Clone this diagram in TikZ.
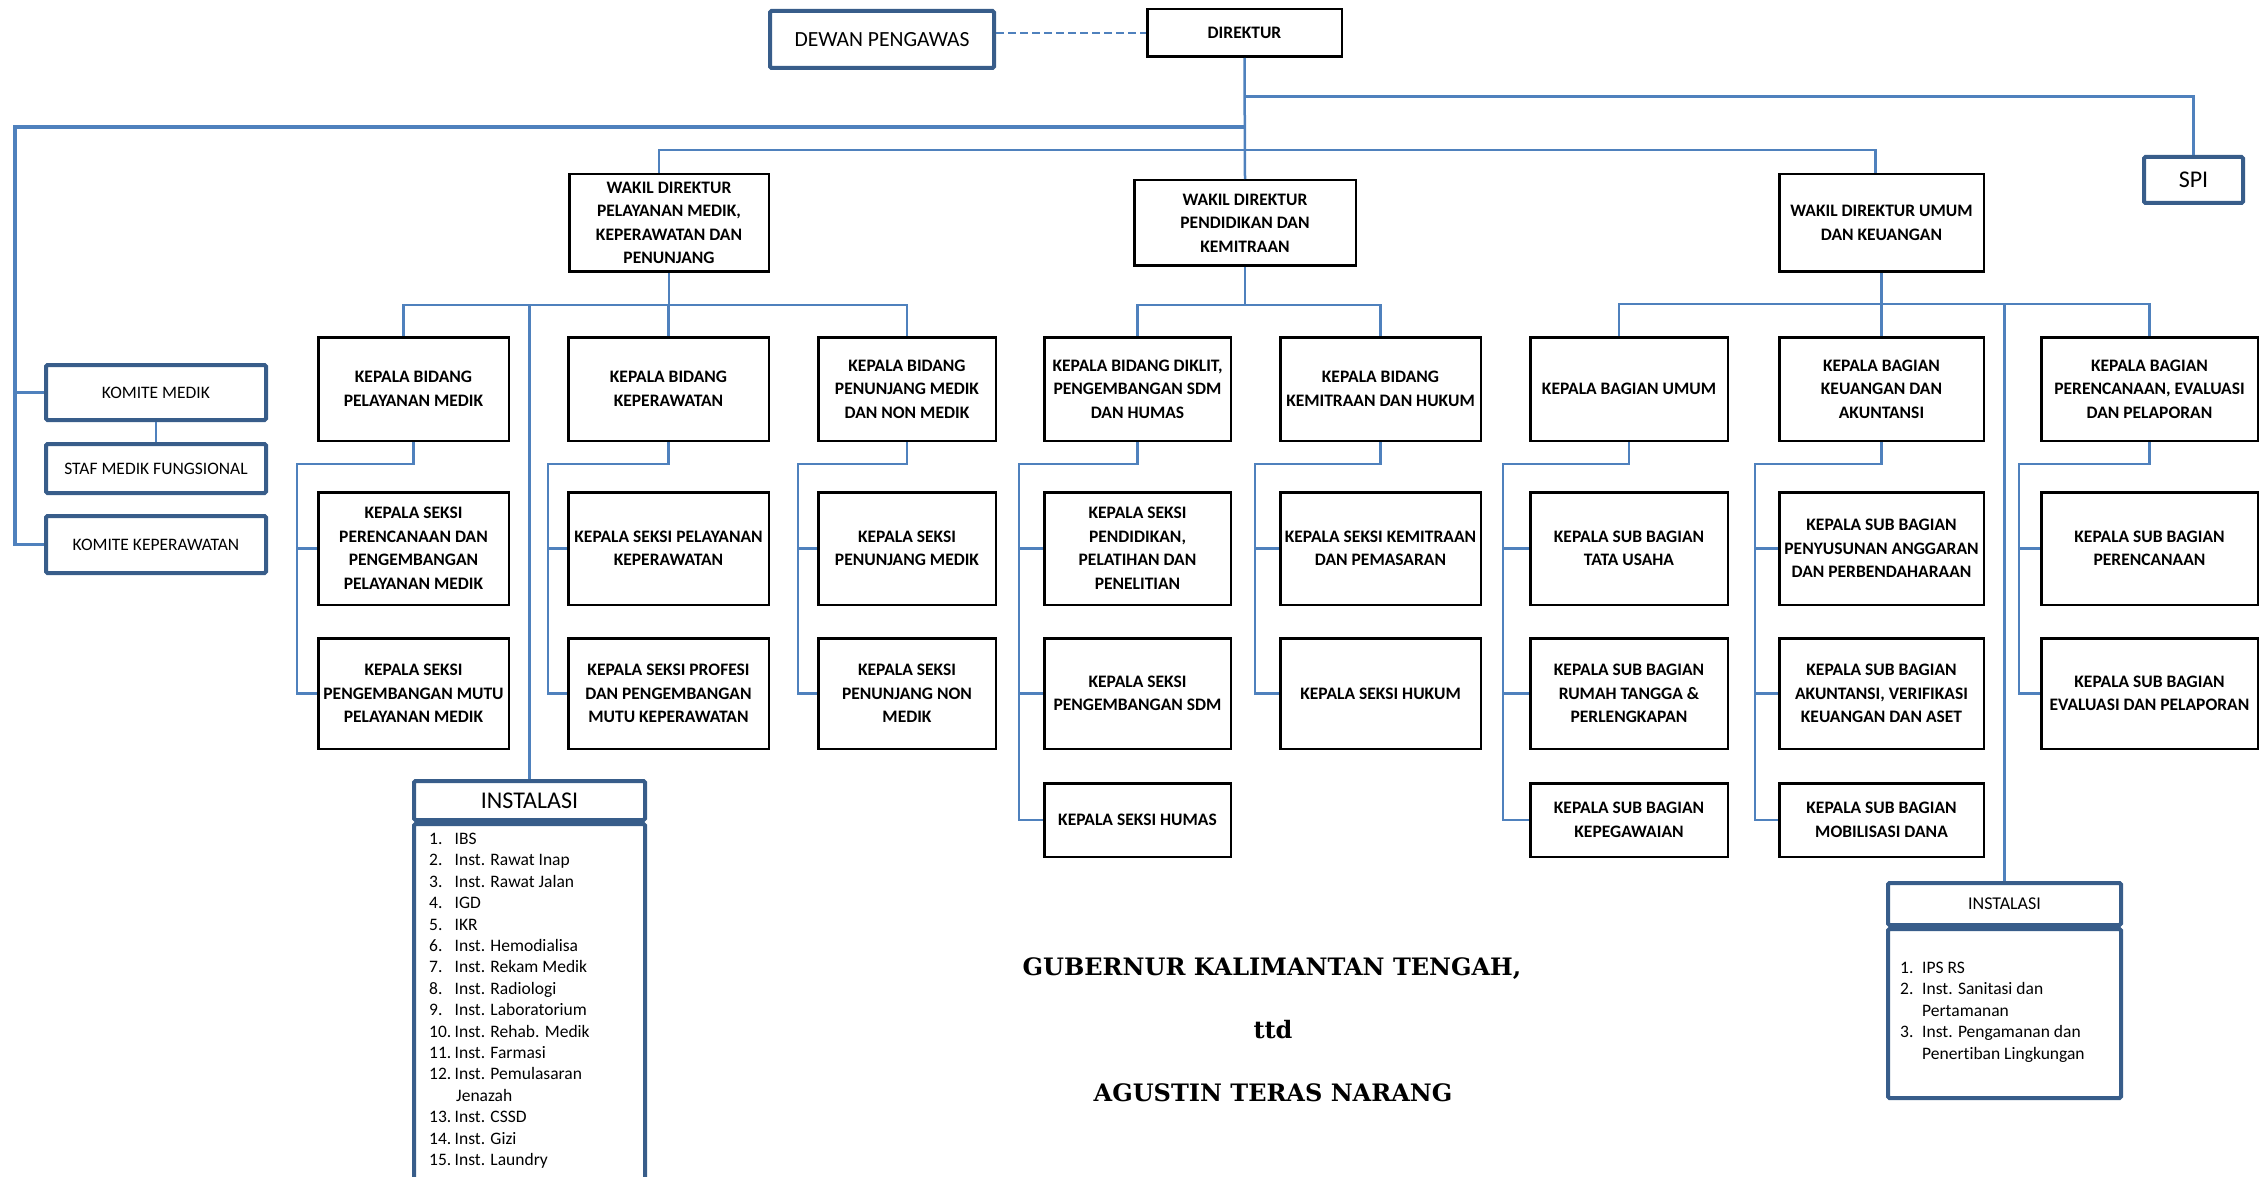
\documentclass[tikz,border=0pt]{standalone}
\usepackage{fontspec}
\setmainfont{Carlito}[Ligatures=CommonOff]
\newfontfamily\judulfont{DejaVu Serif}
\usetikzlibrary{positioning}
\definecolor{garisbiru}{HTML}{4F81BD}
\definecolor{tepibiru}{HTML}{385D8A}

\begin{document}
\begin{tikzpicture}[
    x=1pt, y=-1pt,
    kotak/.style={rectangle, draw=black, line width=2.5pt, align=center, inner sep=2pt,
        font=\bfseries\fontsize{17.5pt}{23.5pt}\selectfont},
    biru/.style={rectangle, draw=tepibiru, line width=4pt, rounded corners=1.5pt, align=center,
        inner sep=2pt, font=\fontsize{17.5pt}{22pt}\selectfont},
    garis/.style={draw=garisbiru, line width=2.5pt},
    bidang/.style={kotak, minimum height=103.5pt},
    seksi/.style={kotak, minimum height=112.5pt},
    seksidua/.style={kotak, minimum height=110.5pt},
    seksitiga/.style={kotak, minimum height=73.5pt},
    kolA/.style={minimum width=190.5pt},
    kolB/.style={minimum width=200.5pt},
    kolC/.style={minimum width=177.5pt},
    kolD/.style={minimum width=186.5pt},
    kolE/.style={minimum width=200.5pt},
    kolF/.style={minimum width=197.5pt},
    kolG/.style={minimum width=204.5pt},
    kolH/.style={minimum width=216.5pt},
    daftar/.style={anchor=north west, align=left, inner sep=0pt,
        font=\fontsize{17.5pt}{21.4pt}\selectfont},
    ttdteks/.style={anchor=base, inner sep=0pt,
        font=\judulfont\bfseries\fontsize{24pt}{28pt}\selectfont}
]
\useasboundingbox (0,0) rectangle (2263,1177);

% pimpinan
\node[kotak, minimum width=194.5pt, minimum height=47.5pt] (dir) at (1244.5,33) {DIREKTUR};
\node[biru, minimum width=224pt, minimum height=57pt, font=\fontsize{21.6pt}{26pt}\selectfont]
    (dewan) at (882,39.5) {DEWAN PENGAWAS};
\node[biru, minimum width=99pt, minimum height=46pt, font=\fontsize{24pt}{28pt}\selectfont]
    (spi) at (2193.5,180) {SPI};

\node[kotak, minimum width=199.5pt, minimum height=97.5pt] (w1) at (669,223)
    {WAKIL DIREKTUR\\PELAYANAN MEDIK,\\KEPERAWATAN DAN\\PENUNJANG};
\node[kotak, minimum width=221.5pt, minimum height=85.5pt] (w2) at (1245,223)
    {WAKIL DIREKTUR\\PENDIDIKAN DAN\\KEMITRAAN};
\node[kotak, minimum width=204.5pt, minimum height=97.5pt] (w3) at (1881.5,223)
    {WAKIL DIREKTUR UMUM\\DAN KEUANGAN};

% komite
\node[biru, minimum width=220pt, minimum height=55pt] (km) at (156,392.5) {KOMITE MEDIK};
\node[biru, minimum width=220pt, minimum height=49pt, below=20pt of km] (staf) {STAF MEDIK FUNGSIONAL};
\node[biru, minimum width=220pt, minimum height=57pt, below=19pt of staf] (kk) {KOMITE KEPERAWATAN};

% bidang / bagian
\node[bidang, kolA] (ba) at (413.5,389) {KEPALA BIDANG\\PELAYANAN MEDIK};
\node[bidang, kolB] (bb) at (668.5,389) {KEPALA BIDANG\\KEPERAWATAN};
\node[bidang, kolC] (bc) at (907,389) {KEPALA BIDANG\\PENUNJANG MEDIK\\DAN NON MEDIK};
\node[bidang, kolD] (bd) at (1137.5,389) {KEPALA BIDANG DIKLIT,\\PENGEMBANGAN SDM\\DAN HUMAS};
\node[bidang, kolE] (be) at (1380.5,389) {KEPALA BIDANG\\KEMITRAAN DAN HUKUM};
\node[bidang, kolF] (bf) at (1629,389) {KEPALA BAGIAN UMUM};
\node[bidang, kolG] (bg) at (1881.5,389) {KEPALA BAGIAN\\KEUANGAN DAN\\AKUNTANSI};
\node[bidang, kolH] (bh) at (2149.5,389) {KEPALA BAGIAN\\PERENCANAAN, EVALUASI\\DAN PELAPORAN};

% seksi / sub bagian
\node[seksi, kolA, below=49pt of ba] (sa1) {KEPALA SEKSI\\PERENCANAAN DAN\\PENGEMBANGAN\\PELAYANAN MEDIK};
\node[seksidua, kolA, below=31pt of sa1] (sa2) {KEPALA SEKSI\\PENGEMBANGAN MUTU\\PELAYANAN MEDIK};
\node[seksi, kolB, below=49pt of bb] (sb1) {KEPALA SEKSI PELAYANAN\\KEPERAWATAN};
\node[seksidua, kolB, below=31pt of sb1] (sb2) {KEPALA SEKSI PROFESI\\DAN PENGEMBANGAN\\MUTU KEPERAWATAN};
\node[seksi, kolC, below=49pt of bc] (sc1) {KEPALA SEKSI\\PENUNJANG MEDIK};
\node[seksidua, kolC, below=31pt of sc1] (sc2) {KEPALA SEKSI\\PENUNJANG NON\\MEDIK};
\node[seksi, kolD, below=49pt of bd] (sd1) {KEPALA SEKSI\\PENDIDIKAN,\\PELATIHAN DAN\\PENELITIAN};
\node[seksidua, kolD, below=31pt of sd1] (sd2) {KEPALA SEKSI\\PENGEMBANGAN SDM};
\node[seksitiga, kolD, below=32pt of sd2] (sd3) {KEPALA SEKSI HUMAS};
\node[seksi, kolE, below=49pt of be] (se1) {KEPALA SEKSI KEMITRAAN\\DAN PEMASARAN};
\node[seksidua, kolE, below=31pt of se1] (se2) {KEPALA SEKSI HUKUM};
\node[seksi, kolF, below=49pt of bf] (sf1) {KEPALA SUB BAGIAN\\TATA USAHA};
\node[seksidua, kolF, below=31pt of sf1] (sf2) {KEPALA SUB BAGIAN\\RUMAH TANGGA \&\\PERLENGKAPAN};
\node[seksitiga, kolF, below=32pt of sf2] (sf3) {KEPALA SUB BAGIAN\\KEPEGAWAIAN};
\node[seksi, kolG, below=49pt of bg] (sg1) {KEPALA SUB BAGIAN\\PENYUSUNAN ANGGARAN\\DAN PERBENDAHARAAN};
\node[seksidua, kolG, below=31pt of sg1] (sg2) {KEPALA SUB BAGIAN\\AKUNTANSI, VERIFIKASI\\KEUANGAN DAN ASET};
\node[seksitiga, kolG, below=32pt of sg2] (sg3) {KEPALA SUB BAGIAN\\MOBILISASI DANA};
\node[seksi, kolH, below=49pt of bh] (sh1) {KEPALA SUB BAGIAN\\PERENCANAAN};
\node[seksidua, kolH, below=31pt of sh1] (sh2) {KEPALA SUB BAGIAN\\EVALUASI DAN PELAPORAN};

% instalasi
\node[biru, minimum width=231pt, minimum height=39pt, font=\fontsize{24pt}{28pt}\selectfont]
    (ins1h) at (529.5,800.5) {INSTALASI};
\node[biru, minimum width=231pt, minimum height=420pt, below=0pt of ins1h] (ins1l) {};
\node[daftar] (ins1isi) at (429,833) {%
    \makebox[25.5pt][l]{1.}IBS\\
    \makebox[25.5pt][l]{2.}Inst. Rawat Inap\\
    \makebox[25.5pt][l]{3.}Inst. Rawat Jalan\\
    \makebox[25.5pt][l]{4.}IGD\\
    \makebox[25.5pt][l]{5.}IKR\\
    \makebox[25.5pt][l]{6.}Inst. Hemodialisa\\
    \makebox[25.5pt][l]{7.}Inst. Rekam Medik\\
    \makebox[25.5pt][l]{8.}Inst. Radiologi\\
    \makebox[25.5pt][l]{9.}Inst. Laboratorium\\
    \makebox[25.5pt][l]{10.}Inst. Rehab. Medik\\
    \makebox[25.5pt][l]{11.}Inst. Farmasi\\
    \makebox[25.5pt][l]{12.}Inst. Pemulasaran\\
    \hspace*{27pt}Jenazah\\
    \makebox[25.5pt][l]{13.}Inst. CSSD\\
    \makebox[25.5pt][l]{14.}Inst. Gizi\\
    \makebox[25.5pt][l]{15.}Inst. Laundry};

\node[biru, minimum width=233pt, minimum height=42pt, font=\fontsize{18pt}{22pt}\selectfont]
    (ins2h) at (2004.5,904) {INSTALASI};
\node[biru, minimum width=233pt, minimum height=169pt, below=0pt of ins2h] (ins2l) {};
\node[daftar] (ins2isi) at (1900,962) {%
    \makebox[22pt][l]{1.}IPS RS\\
    \makebox[22pt][l]{2.}Inst. Sanitasi dan\\
    \hspace*{22pt}Pertamanan\\
    \makebox[22pt][l]{3.}Inst. Pengamanan dan\\
    \hspace*{22pt}Penertiban Lingkungan};

% pengesahan
\node[ttdteks] (gub) at (1272,975) {GUBERNUR KALIMANTAN TENGAH,};
\node[ttdteks] (ttd) at (1273,1038) {ttd};
\node[ttdteks] (nama) at (1273,1101.5) {AGUSTIN TERAS NARANG};

% garis
\draw[garis, dash pattern=on 8pt off 4pt] (dewan.east |- dir.west) -- (dir.west);
\draw[garis] (dir.south) -- (w2.north);
\draw[garis, line width=3pt] (dir.south) ++(0,39) -| (spi.north);
\draw[garis, line width=3.5pt] (dir.south) ++(0,69) -| ([xshift=-29pt]kk.west) -- (kk.west);
\draw[garis, line width=3pt] ([xshift=-29pt]km.west) -- (km.west);
\draw[garis] (km.south) -- (staf.north);
\draw[garis] ([xshift=-10pt]w1.north) -- ++(0,-23) -| ([xshift=-6pt]w3.north);

\draw[garis] (w1.south) -- ++(0,32) coordinate (bus1);
\draw[garis] ([xshift=-10pt]ba.north) |- (bus1) -| (bc.north);
\draw[garis] (bb.north) -- (bb.north |- bus1);
\draw[garis] (ins1h.north) -- (ins1h.north |- bus1);

\draw[garis] (w2.south) -- ++(0,38) coordinate (bus2);
\draw[garis] (bd.north) |- (bus2) -| (be.north);

\draw[garis] (w3.south) -- ++(0,31) coordinate (bus3);
\draw[garis] ([xshift=-10pt]bf.north) |- (bus3) -| (bh.north);
\draw[garis] (bg.north) -- (bg.north |- bus3);
\draw[garis] (ins2h.north) -- (ins2h.north |- bus3);

\draw[garis] (ba.south) -- ++(0,22) -| ([xshift=-20pt]sa2.west) -- (sa2.west);
\draw[garis] ([xshift=-20pt]sa1.west) -- (sa1.west);
\draw[garis] (bb.south) -- ++(0,22) -| ([xshift=-19pt]sb2.west) -- (sb2.west);
\draw[garis] ([xshift=-19pt]sb1.west) -- (sb1.west);
\draw[garis] (bc.south) -- ++(0,22) -| ([xshift=-19pt]sc2.west) -- (sc2.west);
\draw[garis] ([xshift=-19pt]sc1.west) -- (sc1.west);
\draw[garis] (bd.south) -- ++(0,22) -| ([xshift=-24pt]sd3.west) -- (sd3.west);
\draw[garis] ([xshift=-24pt]sd1.west) -- (sd1.west);
\draw[garis] ([xshift=-24pt]sd2.west) -- (sd2.west);
\draw[garis] (be.south) -- ++(0,22) -| ([xshift=-24pt]se2.west) -- (se2.west);
\draw[garis] ([xshift=-24pt]se1.west) -- (se1.west);
\draw[garis] (bf.south) -- ++(0,22) -| ([xshift=-26pt]sf3.west) -- (sf3.west);
\draw[garis] ([xshift=-26pt]sf1.west) -- (sf1.west);
\draw[garis] ([xshift=-26pt]sf2.west) -- (sf2.west);
\draw[garis] (bg.south) -- ++(0,22) -| ([xshift=-23pt]sg3.west) -- (sg3.west);
\draw[garis] ([xshift=-23pt]sg1.west) -- (sg1.west);
\draw[garis] ([xshift=-23pt]sg2.west) -- (sg2.west);
\draw[garis] (bh.south) -- ++(0,22) -| ([xshift=-21pt]sh2.west) -- (sh2.west);
\draw[garis] ([xshift=-21pt]sh1.west) -- (sh1.west);
\end{tikzpicture}
\end{document}
